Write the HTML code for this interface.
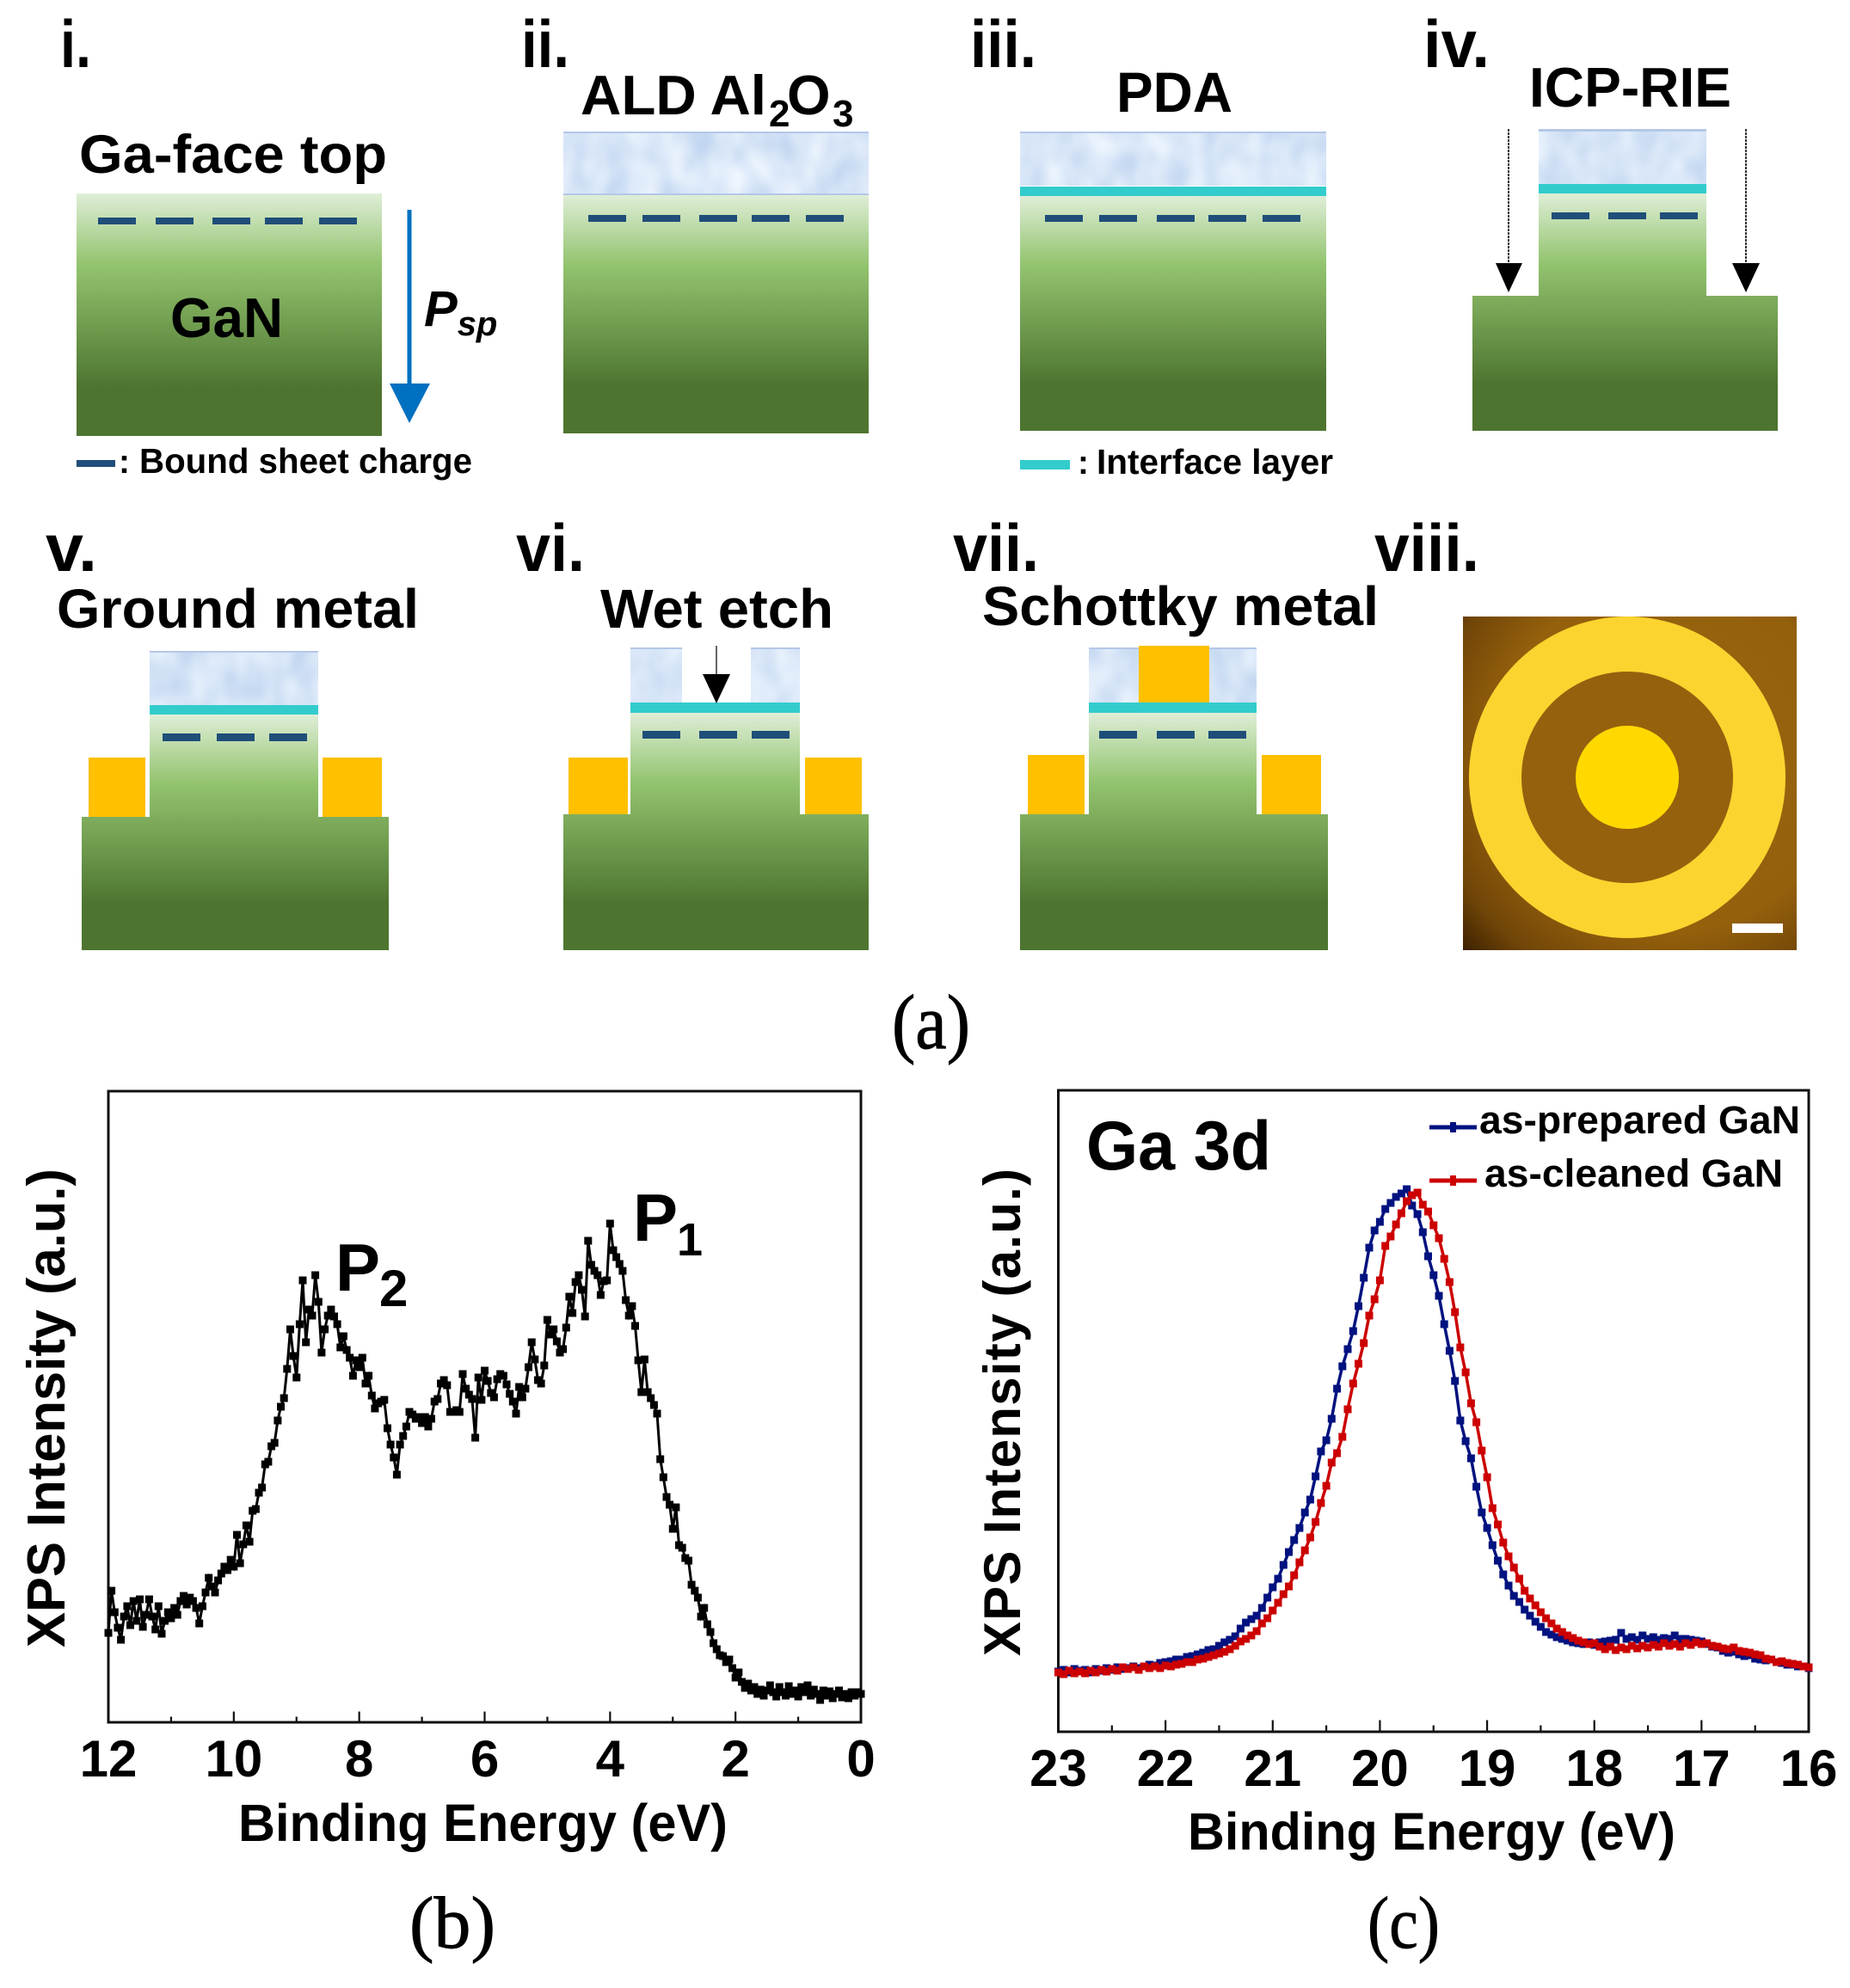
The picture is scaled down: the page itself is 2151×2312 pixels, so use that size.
<!DOCTYPE html>
<html lang="en">
<head>
<meta charset="utf-8">
<title>GaN device process flow and XPS spectra</title>
<style>
html,body{margin:0;padding:0;background:#fff;width:2151px;height:2312px;overflow:hidden}
svg{display:block}
text{font-family:"Liberation Sans",sans-serif;font-weight:bold;fill:#000}
.serif{font-family:"Liberation Serif",serif;font-weight:normal;stroke:#000;stroke-width:.9px}
.dash{fill:#1f4e79}
.teal{fill:#33cccc}
.gold{fill:#ffc000}
.ald{fill:#fff;filter:url(#ald-texture)}
.aldline{fill:#b4c7e7}
.gan{fill:url(#gan-gradient)}
</style>
</head>
<body>
<svg id="figure" xmlns="http://www.w3.org/2000/svg" width="2151" height="2312" viewBox="0 0 2151 2312">
<defs>
<linearGradient id="gan-gradient" x1="0" y1="0" x2="0" y2="1">
<stop offset="0" stop-color="#dfeed7"/><stop offset=".29" stop-color="#93c46f"/><stop offset=".8" stop-color="#4e7530"/><stop offset="1" stop-color="#4e7530"/>
</linearGradient>
<filter id="ald-texture" x="0" y="0" width="1" height="1" color-interpolation-filters="sRGB">
<feTurbulence type="fractalNoise" baseFrequency="0.03 0.022" numOctaves="2" seed="4"/>
<feColorMatrix values="0.25 0 0 0 0.72  0.18 0 0 0 0.81  0.08 0 0 0 0.93  0 0 0 0 1"/>
</filter>
<radialGradient id="micro-bg" cx=".62" cy=".42" r=".85">
<stop offset="0" stop-color="#9a660f"/><stop offset=".62" stop-color="#94600c"/><stop offset=".85" stop-color="#704508"/><stop offset="1" stop-color="#3c2100"/>
</radialGradient>
</defs>
<rect width="2151" height="2312" fill="#fff"/>

<!-- Panel i -->
<g>
<text x="70" y="78" font-size="78" textLength="36" lengthAdjust="spacingAndGlyphs">i.</text>
<text x="92" y="201" font-size="63" textLength="358" lengthAdjust="spacingAndGlyphs">Ga-face top</text>
<rect class="gan" x="89" y="225" width="355" height="282"/>
<g>
<rect class="dash" x="114" y="253" width="44" height="8"/><rect class="dash" x="181" y="253" width="44" height="8"/><rect class="dash" x="247" y="253" width="44" height="8"/><rect class="dash" x="308" y="253" width="44" height="8"/><rect class="dash" x="371" y="253" width="44" height="8"/>
</g>
<text x="198" y="392" font-size="65" textLength="131" lengthAdjust="spacingAndGlyphs">GaN</text>
<g>
<rect x="473.500" y="244" width="5" height="204" fill="#0070c0"/>
<polygon points="453,446 500,446 476,492" fill="#0070c0"/>
</g>
<text x="493" y="379" font-size="58" font-style="italic">P<tspan font-size="40" dy="11">sp</tspan></text>
<rect class="dash" x="89" y="535" width="45" height="8"/>
<text x="138" y="550" font-size="39">:</text>
<text x="162" y="550" font-size="41" textLength="387" lengthAdjust="spacingAndGlyphs">Bound sheet charge</text>
</g>

<!-- Panel ii -->
<g>
<text x="606" y="78" font-size="78" textLength="56" lengthAdjust="spacingAndGlyphs">ii.</text>
<text y="133" font-size="65"><tspan x="675" textLength="216" lengthAdjust="spacingAndGlyphs">ALD Al</tspan><tspan x="894" y="147" font-size="44">2</tspan><tspan x="915" y="133">O</tspan><tspan x="968" y="147" font-size="44">3</tspan></text>
<rect class="ald" x="655" y="153" width="355" height="74"/>
<rect class="aldline" x="655" y="153" width="355" height="2"/><rect class="aldline" x="655" y="225" width="355" height="2"/>
<rect class="gan" x="655" y="227" width="355" height="277"/>
<g>
<rect class="dash" x="684" y="250" width="44" height="8"/><rect class="dash" x="747" y="250" width="44" height="8"/><rect class="dash" x="813" y="250" width="44" height="8"/><rect class="dash" x="874" y="250" width="44" height="8"/><rect class="dash" x="937" y="250" width="44" height="8"/>
</g>
</g>

<!-- Panel iii -->
<g>
<text x="1128" y="78" font-size="78" textLength="77" lengthAdjust="spacingAndGlyphs">iii.</text>
<text x="1298" y="130" font-size="66" textLength="135" lengthAdjust="spacingAndGlyphs">PDA</text>
<rect class="ald" x="1186" y="153" width="356" height="63"/>
<rect class="aldline" x="1186" y="153" width="356" height="2"/>
<rect class="teal" x="1186" y="217" width="356" height="11"/>
<rect class="gan" x="1186" y="228" width="356" height="273"/>
<g>
<rect class="dash" x="1215" y="250" width="44" height="8"/><rect class="dash" x="1278" y="250" width="44" height="8"/><rect class="dash" x="1345" y="250" width="44" height="8"/><rect class="dash" x="1405" y="250" width="44" height="8"/><rect class="dash" x="1468" y="250" width="44" height="8"/>
</g>
<rect class="teal" x="1186" y="535" width="58" height="11"/>
<text x="1253" y="551" font-size="39">:</text>
<text x="1275" y="551" font-size="41" textLength="275" lengthAdjust="spacingAndGlyphs">Interface layer</text>
</g>

<!-- Panel iv -->
<g>
<text x="1655" y="78" font-size="78" textLength="77" lengthAdjust="spacingAndGlyphs">iv.</text>
<text x="1778" y="124" font-size="65" textLength="235" lengthAdjust="spacingAndGlyphs">ICP-RIE</text>
<rect class="ald" x="1789" y="150" width="195" height="64"/>
<rect class="aldline" x="1789" y="150" width="195" height="3"/>
<rect class="teal" x="1789" y="214" width="195" height="11"/>
<path class="gan" d="M1789 225H1984V344H2067V501H1712V344H1789Z"/>
<g>
<rect class="dash" x="1804" y="247" width="44" height="8"/><rect class="dash" x="1870" y="247" width="44" height="8"/><rect class="dash" x="1930" y="247" width="44" height="8"/>
</g>
<g>
<line x1="1754" y1="150" x2="1754" y2="306" stroke="#333" stroke-width="2" stroke-dasharray="3 1"/>
<polygon points="1739,306 1770,306 1754,340" fill="#000"/>
</g>
<g>
<line x1="2030" y1="150" x2="2030" y2="306" stroke="#333" stroke-width="2" stroke-dasharray="3 1"/>
<polygon points="2014,306 2046,306 2030,340" fill="#000"/>
</g>
</g>

<!-- Panel v -->
<g>
<text x="53" y="664" font-size="78" textLength="60" lengthAdjust="spacingAndGlyphs">v.</text>
<text x="66" y="730" font-size="64" textLength="421" lengthAdjust="spacingAndGlyphs">Ground metal</text>
<rect class="ald" x="174" y="757" width="196" height="63"/>
<rect class="aldline" x="174" y="757" width="196" height="2"/>
<rect class="teal" x="174" y="820" width="196" height="11"/>
<path class="gan" d="M174 831H370V950H452V1105H95V950H174Z"/>
<g>
<rect class="dash" x="189" y="853" width="44" height="9"/><rect class="dash" x="252" y="853" width="44" height="9"/><rect class="dash" x="313" y="853" width="44" height="9"/>
</g>
<rect class="gold" x="103" y="881" width="66" height="69"/>
<rect class="gold" x="375" y="881" width="69" height="69"/>
</g>

<!-- Panel vi -->
<g>
<text x="600" y="664" font-size="78" textLength="80" lengthAdjust="spacingAndGlyphs">vi.</text>
<text x="698" y="730" font-size="64" textLength="271" lengthAdjust="spacingAndGlyphs">Wet etch</text>
<rect class="ald" x="733" y="753" width="60" height="64"/>
<rect class="ald" x="873" y="753" width="57" height="64"/>
<rect class="aldline" x="733" y="753" width="60" height="2"/><rect class="aldline" x="873" y="753" width="57" height="2"/>
<rect class="teal" x="733" y="817" width="197" height="12"/>
<path class="gan" d="M733 829H930V947H1010V1105H655V947H733Z"/>
<g>
<rect class="dash" x="747" y="850" width="44" height="9"/><rect class="dash" x="813" y="850" width="44" height="9"/><rect class="dash" x="874" y="850" width="44" height="9"/>
</g>
<rect class="gold" x="661" y="881" width="69" height="66"/>
<rect class="gold" x="936" y="881" width="66" height="66"/>
<g>
<line x1="833" y1="751" x2="833" y2="784" stroke="#333" stroke-width="1.500"/>
<polygon points="817,784 849,784 833,818" fill="#000"/>
</g>
</g>

<!-- Panel vii -->
<g>
<text x="1108" y="664" font-size="78" textLength="100" lengthAdjust="spacingAndGlyphs">vii.</text>
<text x="1142" y="727" font-size="64" textLength="461" lengthAdjust="spacingAndGlyphs">Schottky metal</text>
<rect class="ald" x="1266" y="753" width="195" height="64"/>
<rect class="aldline" x="1266" y="753" width="195" height="2"/>
<rect class="gold" x="1324" y="751" width="82" height="66"/>
<rect class="teal" x="1266" y="817" width="195" height="12"/>
<path class="gan" d="M1266 829H1461V947H1544V1105H1186V947H1266Z"/>
<g>
<rect class="dash" x="1278" y="850" width="44" height="9"/><rect class="dash" x="1345" y="850" width="44" height="9"/><rect class="dash" x="1405" y="850" width="44" height="9"/>
</g>
<rect class="gold" x="1195" y="878" width="66" height="69"/>
<rect class="gold" x="1467" y="878" width="69" height="69"/>
</g>

<!-- Panel viii -->
<g>
<text x="1598" y="664" font-size="78" textLength="122" lengthAdjust="spacingAndGlyphs">viii.</text>
<rect x="1701" y="717" width="388" height="388" fill="url(#micro-bg)"/>
<ellipse cx="1892" cy="904" rx="184" ry="187" fill="#fcd42f"/>
<circle cx="1892" cy="904" r="123" fill="#96610d"/>
<circle cx="1892" cy="904" r="60" fill="#ffd800"/>
<rect x="2014" y="1074" width="59" height="11" fill="#fff"/>
</g>

<text class="serif" x="1037" y="1219" font-size="90" textLength="91" lengthAdjust="spacingAndGlyphs">(a)</text>

<!-- Chart b -->
<g id="chart-b">
<rect x="126" y="1269" width="875" height="734" fill="none" stroke="#111" stroke-width="3"/>
<g id="b-ticks"></g>
<g id="b-series"></g>
<text transform="translate(75,1916) rotate(-90)" font-size="62" textLength="557" lengthAdjust="spacingAndGlyphs">XPS Intensity (a.u.)</text>
<text x="277" y="2141" font-size="61" textLength="569" lengthAdjust="spacingAndGlyphs">Binding Energy (eV)</text>
<text font-size="78" x="390" y="1501">P<tspan x="441" y="1519" font-size="60">2</tspan></text>
<text font-size="78" x="736" y="1443">P<tspan x="787" y="1460" font-size="54">1</tspan></text>
</g>
<text class="serif" x="476" y="2265" font-size="86" textLength="100" lengthAdjust="spacingAndGlyphs">(b)</text>

<!-- Chart c -->
<g id="chart-c">
<rect x="1230.500" y="1268" width="872.500" height="746" fill="none" stroke="#111" stroke-width="3"/>
<g id="c-ticks"></g>
<g id="c-series"></g>
<text transform="translate(1186,1926) rotate(-90)" font-size="60" textLength="567" lengthAdjust="spacing">XPS Intensity (a.u.)</text>
<text x="1381" y="2151" font-size="61" textLength="567" lengthAdjust="spacingAndGlyphs">Binding Energy (eV)</text>
<text x="1263" y="1360" font-size="81" textLength="215" lengthAdjust="spacingAndGlyphs">Ga 3d</text>
<g>
<line x1="1662" y1="1311" x2="1717" y2="1311" stroke="#00127f" stroke-width="5"/>
<rect x="1686" y="1305" width="7" height="12" fill="#00127f"/>
<text x="1720" y="1318" font-size="45" textLength="373" lengthAdjust="spacingAndGlyphs">as-prepared GaN</text>
</g>
<g>
<line x1="1662" y1="1373" x2="1717" y2="1373" stroke="#cc0000" stroke-width="5"/>
<rect x="1686" y="1367" width="7" height="12" fill="#cc0000"/>
<text x="1726" y="1380" font-size="45" textLength="347" lengthAdjust="spacingAndGlyphs">as-cleaned GaN</text>
</g>
</g>
<text class="serif" x="1590" y="2265" font-size="86" textLength="84" lengthAdjust="spacingAndGlyphs">(c)</text>
</svg>

<script>
// ---- Chart (b) data: valence band spectrum ----
const bMajorTicks = [12, 10, 8, 6, 4, 2, 0];
const bMinorTicks = [11, 9, 7, 5, 3, 1];
const bTickLabels = ["12", "10", "8", "6", "4", "2", "0"];
const bEnergy = [
12.00,11.95,11.90,11.85,11.80,11.75,11.70,11.65,11.60,11.55,11.50,11.45,11.40,11.35,11.30,11.25,11.20,11.15,11.10,11.05,
11.00,10.95,10.90,10.85,10.80,10.75,10.70,10.65,10.60,10.55,10.50,10.45,10.40,10.35,10.30,10.25,10.20,10.15,10.10,10.05,
10.00,9.95,9.90,9.85,9.80,9.75,9.70,9.65,9.60,9.55,9.50,9.45,9.40,9.35,9.30,9.25,9.20,9.15,9.10,9.05,
9.00,8.95,8.90,8.85,8.80,8.75,8.70,8.65,8.60,8.55,8.50,8.45,8.40,8.35,8.30,8.25,8.20,8.15,8.10,8.05,
8.00,7.95,7.90,7.85,7.80,7.75,7.70,7.65,7.60,7.55,7.50,7.45,7.40,7.35,7.30,7.25,7.20,7.15,7.10,7.05,
7.00,6.95,6.90,6.85,6.80,6.75,6.70,6.65,6.60,6.55,6.50,6.45,6.40,6.35,6.30,6.25,6.20,6.15,6.10,6.05,
6.00,5.95,5.90,5.85,5.80,5.75,5.70,5.65,5.60,5.55,5.50,5.45,5.40,5.35,5.30,5.25,5.20,5.15,5.10,5.05,
5.00,4.95,4.90,4.85,4.80,4.75,4.70,4.65,4.60,4.55,4.50,4.45,4.40,4.35,4.30,4.25,4.20,4.15,4.10,4.05,
4.00,3.95,3.90,3.85,3.80,3.75,3.70,3.65,3.60,3.55,3.50,3.45,3.40,3.35,3.30,3.25,3.20,3.15,3.10,3.05,
3.00,2.95,2.90,2.85,2.80,2.75,2.70,2.65,2.60,2.55,2.50,2.45,2.40,2.35,2.30,2.25,2.20,2.15,2.10,2.05,
2.00,1.95,1.90,1.85,1.80,1.75,1.70,1.65,1.60,1.55,1.50,1.45,1.40,1.35,1.30,1.25,1.20,1.15,1.10,1.05,
1.00,0.95,0.90,0.85,0.80,0.75,0.70,0.65,0.60,0.55,0.50,0.45,0.40,0.35,0.30,0.25,0.20,0.15,0.10,0.05,0.00];
const bIntensity = [
104,153,128,110,96,123,135,113,141,118,143,111,125,143,123,108,135,103,118,128,
121,133,125,141,147,137,145,141,133,115,135,151,168,158,151,165,173,181,177,189,
181,218,185,207,229,210,246,248,267,273,300,303,321,325,351,367,377,411,457,426,
401,463,514,442,480,473,520,489,430,457,473,480,472,463,436,449,433,424,403,421,
413,424,394,403,380,365,371,373,375,342,323,308,288,323,333,344,361,358,353,355,
348,355,344,353,373,376,394,398,392,361,361,363,361,405,388,381,376,331,401,375,
409,397,383,378,399,405,403,393,382,373,359,390,378,388,413,442,422,398,394,415,
468,451,457,443,430,434,459,495,476,512,520,503,472,560,532,525,520,497,513,514,
580,549,541,533,525,491,473,484,461,421,384,422,384,377,369,359,306,285,262,253,
225,250,206,203,191,188,160,153,145,123,133,114,105,92,85,78,77,70,73,63,
52,58,47,40,45,37,41,33,38,31,37,43,35,30,41,35,31,42,33,37,
30,41,35,43,31,38,33,26,37,31,36,28,33,37,29,33,28,35,31,35,33];

// ---- Chart (c) data: Ga 3d core level ----
const cMajorTicks = [23, 22, 21, 20, 19, 18, 17, 16];
const cMinorTicks = [22.5, 21.5, 20.5, 19.5, 18.5, 17.5, 16.5];
const cTickLabels = ["23", "22", "21", "20", "19", "18", "17", "16"];
const cEnergy = [
23.00,22.95,22.90,22.85,22.80,22.75,22.70,22.65,22.60,22.55,
22.50,22.45,22.40,22.35,22.30,22.25,22.20,22.15,22.10,22.05,
22.00,21.95,21.90,21.85,21.80,21.75,21.70,21.65,21.60,21.55,
21.50,21.45,21.40,21.35,21.30,21.25,21.20,21.15,21.10,21.05,
21.00,20.95,20.90,20.85,20.80,20.75,20.70,20.65,20.60,20.55,
20.50,20.45,20.40,20.35,20.30,20.25,20.20,20.15,20.10,20.05,
20.00,19.95,19.90,19.85,19.80,19.75,19.70,19.65,19.60,19.55,
19.50,19.45,19.40,19.35,19.30,19.25,19.20,19.15,19.10,19.05,
19.00,18.95,18.90,18.85,18.80,18.75,18.70,18.65,18.60,18.55,
18.50,18.45,18.40,18.35,18.30,18.25,18.20,18.15,18.10,18.05,
18.00,17.95,17.90,17.85,17.80,17.75,17.70,17.65,17.60,17.55,
17.50,17.45,17.40,17.35,17.30,17.25,17.20,17.15,17.10,17.05,
17.00,16.95,16.90,16.85,16.80,16.75,16.70,16.65,16.60,16.55,
16.50,16.45,16.40,16.35,16.30,16.25,16.20,16.15,16.10,16.05,16.00];
const cAsPrepared = [
70,72,69,73,71,72,69,73,71,74,
72,75,73,74,76,74,76,78,77,80,
81,82,84,84,87,88,90,92,95,96,
100,104,107,111,120,127,131,135,144,156,
168,178,194,209,223,237,255,270,297,326,
339,364,399,425,445,466,495,528,563,583,
593,608,615,622,626,631,612,602,581,553,
531,507,474,443,408,362,338,318,285,255,
237,217,199,183,170,158,151,142,135,128,
122,116,113,110,108,106,104,103,102,104,
101,104,105,106,107,115,108,110,107,112,
108,110,107,109,108,112,108,108,107,106,
105,102,99,98,94,92,93,90,88,89,
85,84,83,84,81,80,78,78,76,76,74];
const cAsCleaned = [
69,67,71,68,70,68,71,69,72,70,
73,71,75,73,75,72,76,74,76,74,
77,76,78,79,81,81,84,85,87,89,
91,93,96,100,105,108,112,117,126,132,
141,150,160,169,182,197,211,226,244,266,
286,313,324,343,375,405,428,452,484,503,
525,565,576,590,603,617,624,627,613,605,
589,574,550,523,488,447,418,382,360,327,
296,260,241,220,204,191,178,164,155,147,
139,132,126,120,116,112,109,106,104,102,
103,99,96,99,95,98,96,100,97,100,
98,101,99,103,100,102,99,103,101,104,
102,103,100,99,97,96,98,94,93,92,
90,89,85,84,81,82,80,79,78,76,75];

const SVG_NS = "http://www.w3.org/2000/svg";

// Axis functions
function bX(e) { return 126 + (12 - e) * (875 / 12); }
function bY(v) { return 2003 - v; }
function cX(e) { return 1230.5 + (23 - e) * (872.5 / 7); }
function cY(v) { return 2014 - v; }

function addLine(parent, x1, y1, x2, y2, color, width) {
  const l = document.createElementNS(SVG_NS, "line");
  l.setAttribute("x1", x1);
  l.setAttribute("y1", y1);
  l.setAttribute("x2", x2);
  l.setAttribute("y2", y2);
  l.setAttribute("stroke", color);
  l.setAttribute("stroke-width", width);
  
  
  parent.appendChild(l);
}

function drawAxis(parentId, scale, baseY, majors, minors, labels, labelY, majorLen, minorLen) {
  const parent = document.getElementById(parentId);
  majors.forEach(function (t, i) {
    addLine(parent, scale(t), baseY, scale(t), baseY - majorLen, "#111", 2.2);
    const txt = document.createElementNS(SVG_NS, "text");
    txt.setAttribute("x", scale(t));
    txt.setAttribute("y", labelY);
    txt.setAttribute("font-size", "60");
    txt.setAttribute("text-anchor", "middle");
    
    
    txt.textContent = labels[i];
    parent.appendChild(txt);
  });
  minors.forEach(function (t) {
    addLine(parent, scale(t), baseY, scale(t), baseY - minorLen, "#111", 2.2);
  });
}

function drawSeries(parentId, name, energies, values, xf, yf, color, lineWidth, size) {
  const parent = document.getElementById(parentId);
  const d = energies.map(function (e, i) {
    return (i ? "L" : "M") + xf(e).toFixed(1) + " " + yf(values[i]).toFixed(1);
  }).join("");
  const path = document.createElementNS(SVG_NS, "path");
  path.setAttribute("d", d);
  path.setAttribute("fill", "none");
  path.setAttribute("stroke", color);
  path.setAttribute("stroke-width", lineWidth);
  
  
  parent.appendChild(path);
  energies.forEach(function (e, i) {
    const r = document.createElementNS(SVG_NS, "rect");
    r.setAttribute("x", (xf(e) - size / 2).toFixed(1));
    r.setAttribute("y", (yf(values[i]) - size / 2).toFixed(1));
    r.setAttribute("width", size);
    r.setAttribute("height", size);
    r.setAttribute("fill", color);
    
    
    parent.appendChild(r);
  });
}

drawAxis("b-ticks", bX, 2003, bMajorTicks, bMinorTicks, bTickLabels, 2066, 12.5, 6.5);
drawAxis("c-ticks", cX, 2014, cMajorTicks, cMinorTicks, cTickLabels, 2077, 13.5, 7.5);
drawSeries("b-series", "valence-band", bEnergy, bIntensity, bX, bY, "#000", 3, 9);
drawSeries("c-series", "as-prepared", cEnergy, cAsPrepared, cX, cY, "#00127f", 3.5, 9);
drawSeries("c-series", "as-cleaned", cEnergy, cAsCleaned, cX, cY, "#cc0000", 3.5, 9);
</script>
</body>
</html>
